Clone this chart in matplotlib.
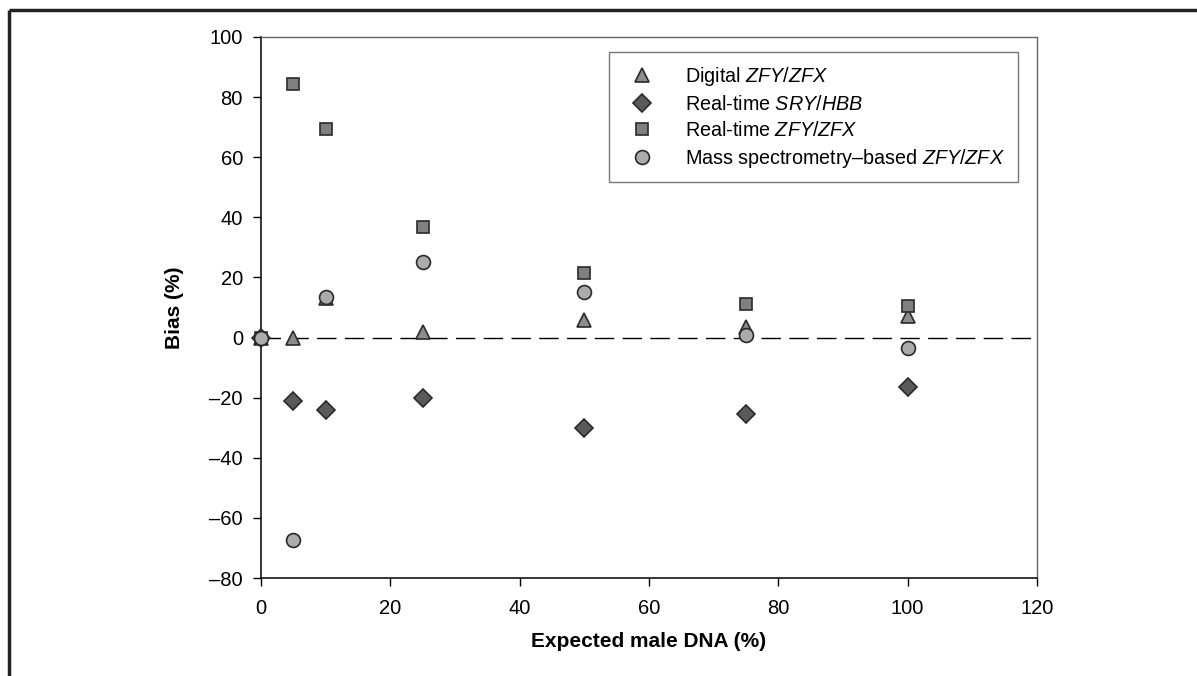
import matplotlib
matplotlib.use("Agg")
import matplotlib.pyplot as plt
from matplotlib.ticker import FuncFormatter
from matplotlib.lines import Line2D

plt.rcParams['font.family'] = ['Liberation Sans', 'DejaVu Sans']
plt.rcParams['mathtext.fontset'] = 'custom'
plt.rcParams['mathtext.rm'] = 'Liberation Sans'
plt.rcParams['mathtext.it'] = 'Liberation Sans:italic'

x_expected = [0, 5, 10, 25, 50, 75, 100]
digital_zfy = [0, 0, 13, 1.7, 5.8, 3.5, 7.2]
realtime_sry = [0, -21, -24, -20, -30, -25.3, -16.6]
realtime_zfy = [0, 84.3, 69.3, 36.8, 21.5, 11.2, 10.6]
massspec_zfy = [0, -67.3, 13.6, 25.2, 15.2, 1, -3.4]

series_labels = ['Digital $\\it{ZFY/ZFX}$',
                 'Real-time $\\it{SRY/HBB}$',
                 'Real-time $\\it{ZFY/ZFX}$',
                 'Mass spectrometry\u2013based $\\it{ZFY/ZFX}$']

fig = plt.figure(figsize=(11.97, 6.76), dpi=100)
ax = fig.add_axes([261/1197, 1-578/676, (1037-261)/1197, (578-37)/676])

ax.axhline(0, color='black', lw=1.0, dashes=(14, 6), zorder=1)

edge = '#2a2a2a'
styles = [
    dict(marker='^', color='#8c8c8c', ms=10.5),
    dict(marker='D', color='#5a5a5a', ms=9),
    dict(marker='s', color='#808080', ms=8.5),
    dict(marker='o', color='#ababab', ms=10),
]
for ys, st, lab in zip([digital_zfy, realtime_sry, realtime_zfy, massspec_zfy], styles, series_labels):
    ax.plot(x_expected, ys, linestyle='none', marker=st['marker'], markersize=st['ms'],
            markerfacecolor=st['color'], markeredgecolor=edge, markeredgewidth=1.2,
            label=lab, zorder=3, clip_on=False)

ax.set_xlim(0, 120)
ax.set_ylim(-80, 100)
ax.set_xticks(range(0, 121, 20))
ax.set_yticks(range(-80, 101, 20))
fmt = FuncFormatter(lambda v, p: ('\u2013%d' % abs(v)) if v < 0 else '%d' % v)
ax.yaxis.set_major_formatter(fmt)
ax.xaxis.set_major_formatter(fmt)
ax.tick_params(axis='both', direction='out', length=6, width=1, labelsize=14.5, colors='black')
ax.tick_params(axis='y', pad=7)
ax.tick_params(axis='x', pad=9)
for s in ['left', 'bottom']:
    ax.spines[s].set_color('black')
    ax.spines[s].set_linewidth(1.1)
for s in ['top', 'right']:
    ax.spines[s].set_color('#666666')
    ax.spines[s].set_linewidth(1.0)

ax.set_xlabel('Expected male DNA (%)', fontsize=15, fontweight='bold', labelpad=10)
ax.set_ylabel('Bias (%)', fontsize=15, fontweight='bold', labelpad=18)

leg = ax.legend(loc='upper left', bbox_to_anchor=((609-261)/776, (578-52)/541),
                frameon=True, fancybox=False, fontsize=14.2, handletextpad=1.2,
                borderpad=0.65, labelspacing=0.35, handlelength=2.0, borderaxespad=0)
leg.get_frame().set_edgecolor('#555555')
leg.get_frame().set_linewidth(1.0)

# outer frame (top and left)
fig.add_artist(Line2D([9/1197, 1.0], [1-10/676, 1-10/676], transform=fig.transFigure,
                      color='#222222', lw=2.5, solid_capstyle='butt'))
fig.add_artist(Line2D([9/1197, 9/1197], [0.0, 1-10/676], transform=fig.transFigure,
                      color='#222222', lw=2.5, solid_capstyle='butt'))

fig.savefig('out.png', dpi=100)
